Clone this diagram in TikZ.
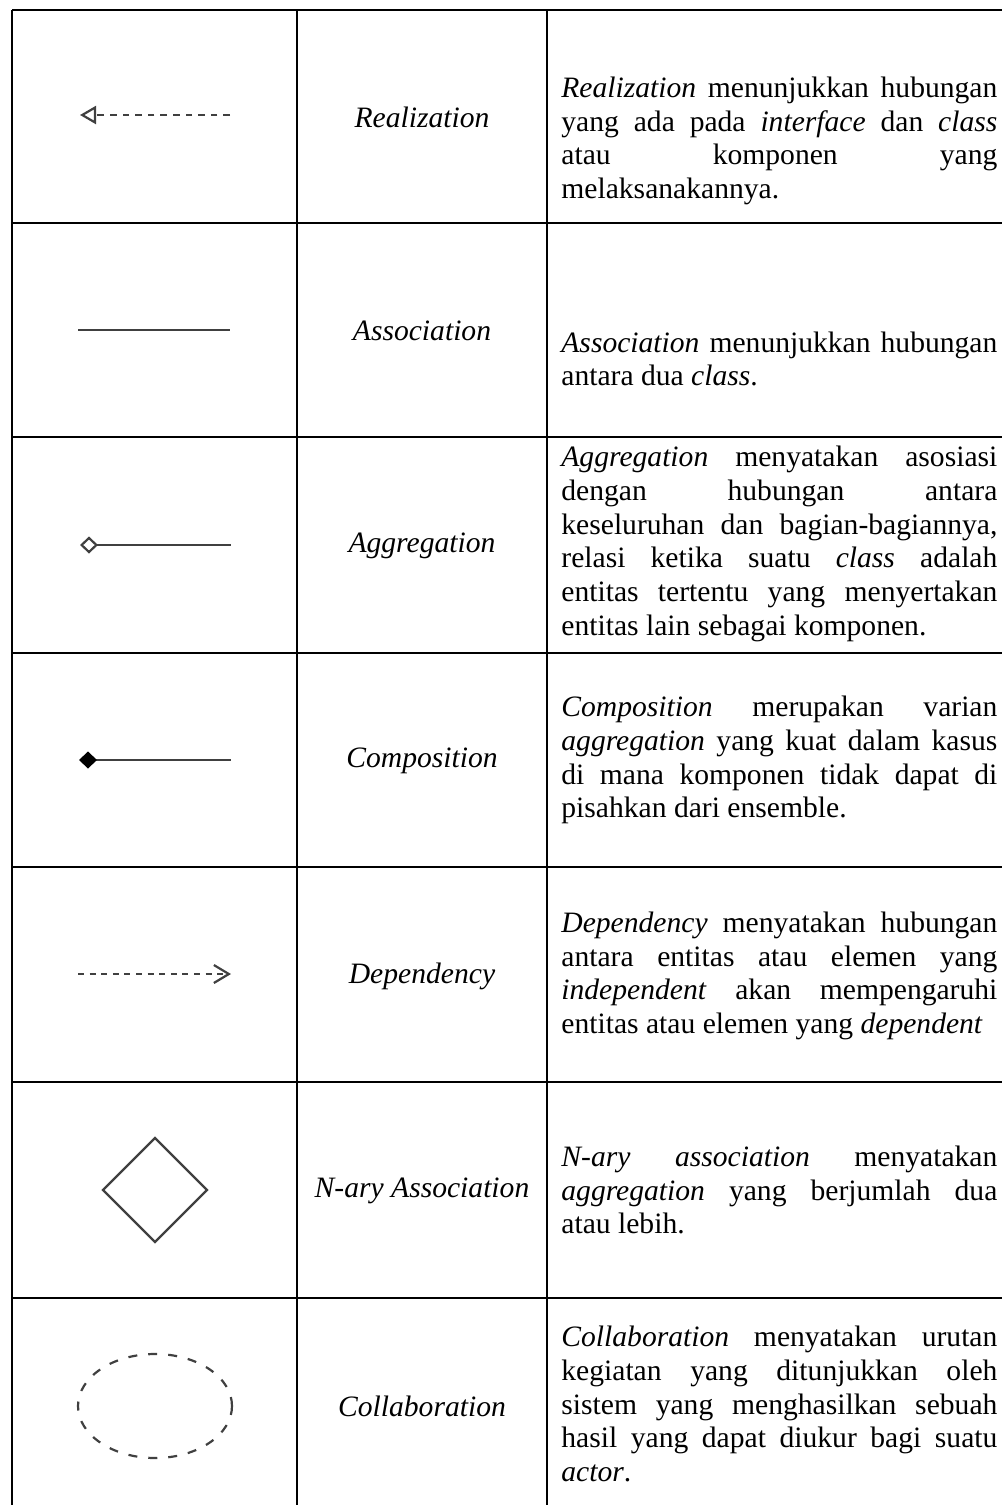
\documentclass[tikz,border=0pt]{standalone}
\usepackage{fontspec}
\setmainfont{Liberation Serif}
\usetikzlibrary{arrows.meta,positioning}

\tikzset{
  rowrule/.style={black, line width=1pt},
  colrule/.style={black, line width=0.7pt},
  sym/.style={draw=black!75, line width=1.1pt},
  kind/.style={font=\fontsize{14.8pt}{16.9pt}\selectfont\itshape, inner sep=0pt},
  desc/.style={font=\fontsize{14.8pt}{16.9pt}\selectfont,
    execute at begin node={\tolerance=10000\relax\hyphenpenalty=10000\relax},
    text width=218pt, align=justify, inner sep=0pt, anchor=west},
}

\begin{document}
\begin{tikzpicture}[x=0.5pt,y=-0.5pt]
  \useasboundingbox (0,0) rectangle (1002,1505);

  % table rules
  \foreach \y in {10,223,437,653,867,1082,1298}{
    \draw[rowrule] (12,\y) -- (1002,\y);
  }
  \foreach \x in {12,297,547}{
    \draw[colrule] (\x,10) -- (\x,1505);
  }

  % relation names
  \foreach \y/\name [count=\i] in {117/Realization,331/Association,546/Aggregation,
      761/Composition,976/Dependency,1191/N-ary Association,1406/Collaboration}{
    \node[kind] (kind\i) at (422,\y) {\name};
  }

  % descriptions
  \node[desc] (desc1) at (561,141) {\textit{Realization} menunjukkan hubungan\linebreak
    yang ada pada \textit{interface} dan \textit{class}\linebreak
    atau komponen yang\linebreak
    melaksanakannya.};
  \node[desc] (desc2) at (561,359) {\textit{Association} menunjukkan hubungan\linebreak
    antara dua \textit{class}.};
  \node[desc] (desc3) at (561,544) {\textit{Aggregation} menyatakan asosiasi\linebreak
    dengan hubungan antara\linebreak
    keseluruhan dan bagian-bagiannya,\linebreak
    relasi ketika suatu \textit{class} adalah\linebreak
    entitas tertentu yang menyertakan\linebreak
    entitas lain sebagai komponen.};
  \node[desc] (desc4) at (561,760) {\textit{Composition} merupakan varian\linebreak
    \textit{aggregation} yang kuat dalam kasus\linebreak
    di mana komponen tidak dapat di\linebreak
    pisahkan dari ensemble.};
  \node[desc] (desc5) at (561,976) {\textit{Dependency} menyatakan hubungan\linebreak
    antara entitas atau elemen yang\linebreak
    \textit{independent} akan mempengaruhi\linebreak
    entitas atau elemen yang \textit{dependent}};
  \node[desc] (desc6) at (561,1190) {\textit{N-ary association} menyatakan\linebreak
    \textit{aggregation} yang berjumlah dua\linebreak
    atau lebih.};
  \node[desc] (desc7) at (561,1404) {\textit{Collaboration} menyatakan urutan\linebreak
    kegiatan yang ditunjukkan oleh\linebreak
    sistem yang menghasilkan sebuah\linebreak
    hasil yang dapat diukur bagi suatu\linebreak
    \textit{actor}.};

  % symbols
  \coordinate (real-a) at (230,115);
  \coordinate (real-b) at (80,115);
  \draw[sym, dash pattern=on 3.3pt off 3pt,
    -{Triangle[open,length=8pt,width=9pt]}] (real-a) -- (real-b);

  \coordinate (assoc-a) at (78,330);
  \coordinate (assoc-b) at (230,330);
  \draw[sym] (assoc-a) -- (assoc-b);

  \coordinate (aggr-a) at (80,545);
  \coordinate (aggr-b) at (231,545);
  \draw[sym, {Diamond[open,length=9pt,width=8.5pt]}-] (aggr-a) -- (aggr-b);

  \coordinate (comp-a) at (79,760);
  \coordinate (comp-b) at (231,760);
  \draw[sym, {Diamond[color=black,length=9pt,width=8.5pt]}-] (comp-a) -- (comp-b);

  \coordinate (dep-a) at (78,974);
  \coordinate (dep-b) at (231,974);
  \draw[sym, dash pattern=on 3pt off 2.8pt,
    -{Straight Barb[length=7.5pt,width=9pt]}] (dep-a) -- (dep-b);

  % n-ary diamond
  \draw[sym] (155,1138) -- (207,1190) -- (155,1242) -- (103,1190) -- cycle;

  % collaboration ellipse
  \draw[sym, dash pattern=on 4.5pt off 5.5pt] (155,1406) ellipse [x radius=77, y radius=52];
\end{tikzpicture}
\end{document}
